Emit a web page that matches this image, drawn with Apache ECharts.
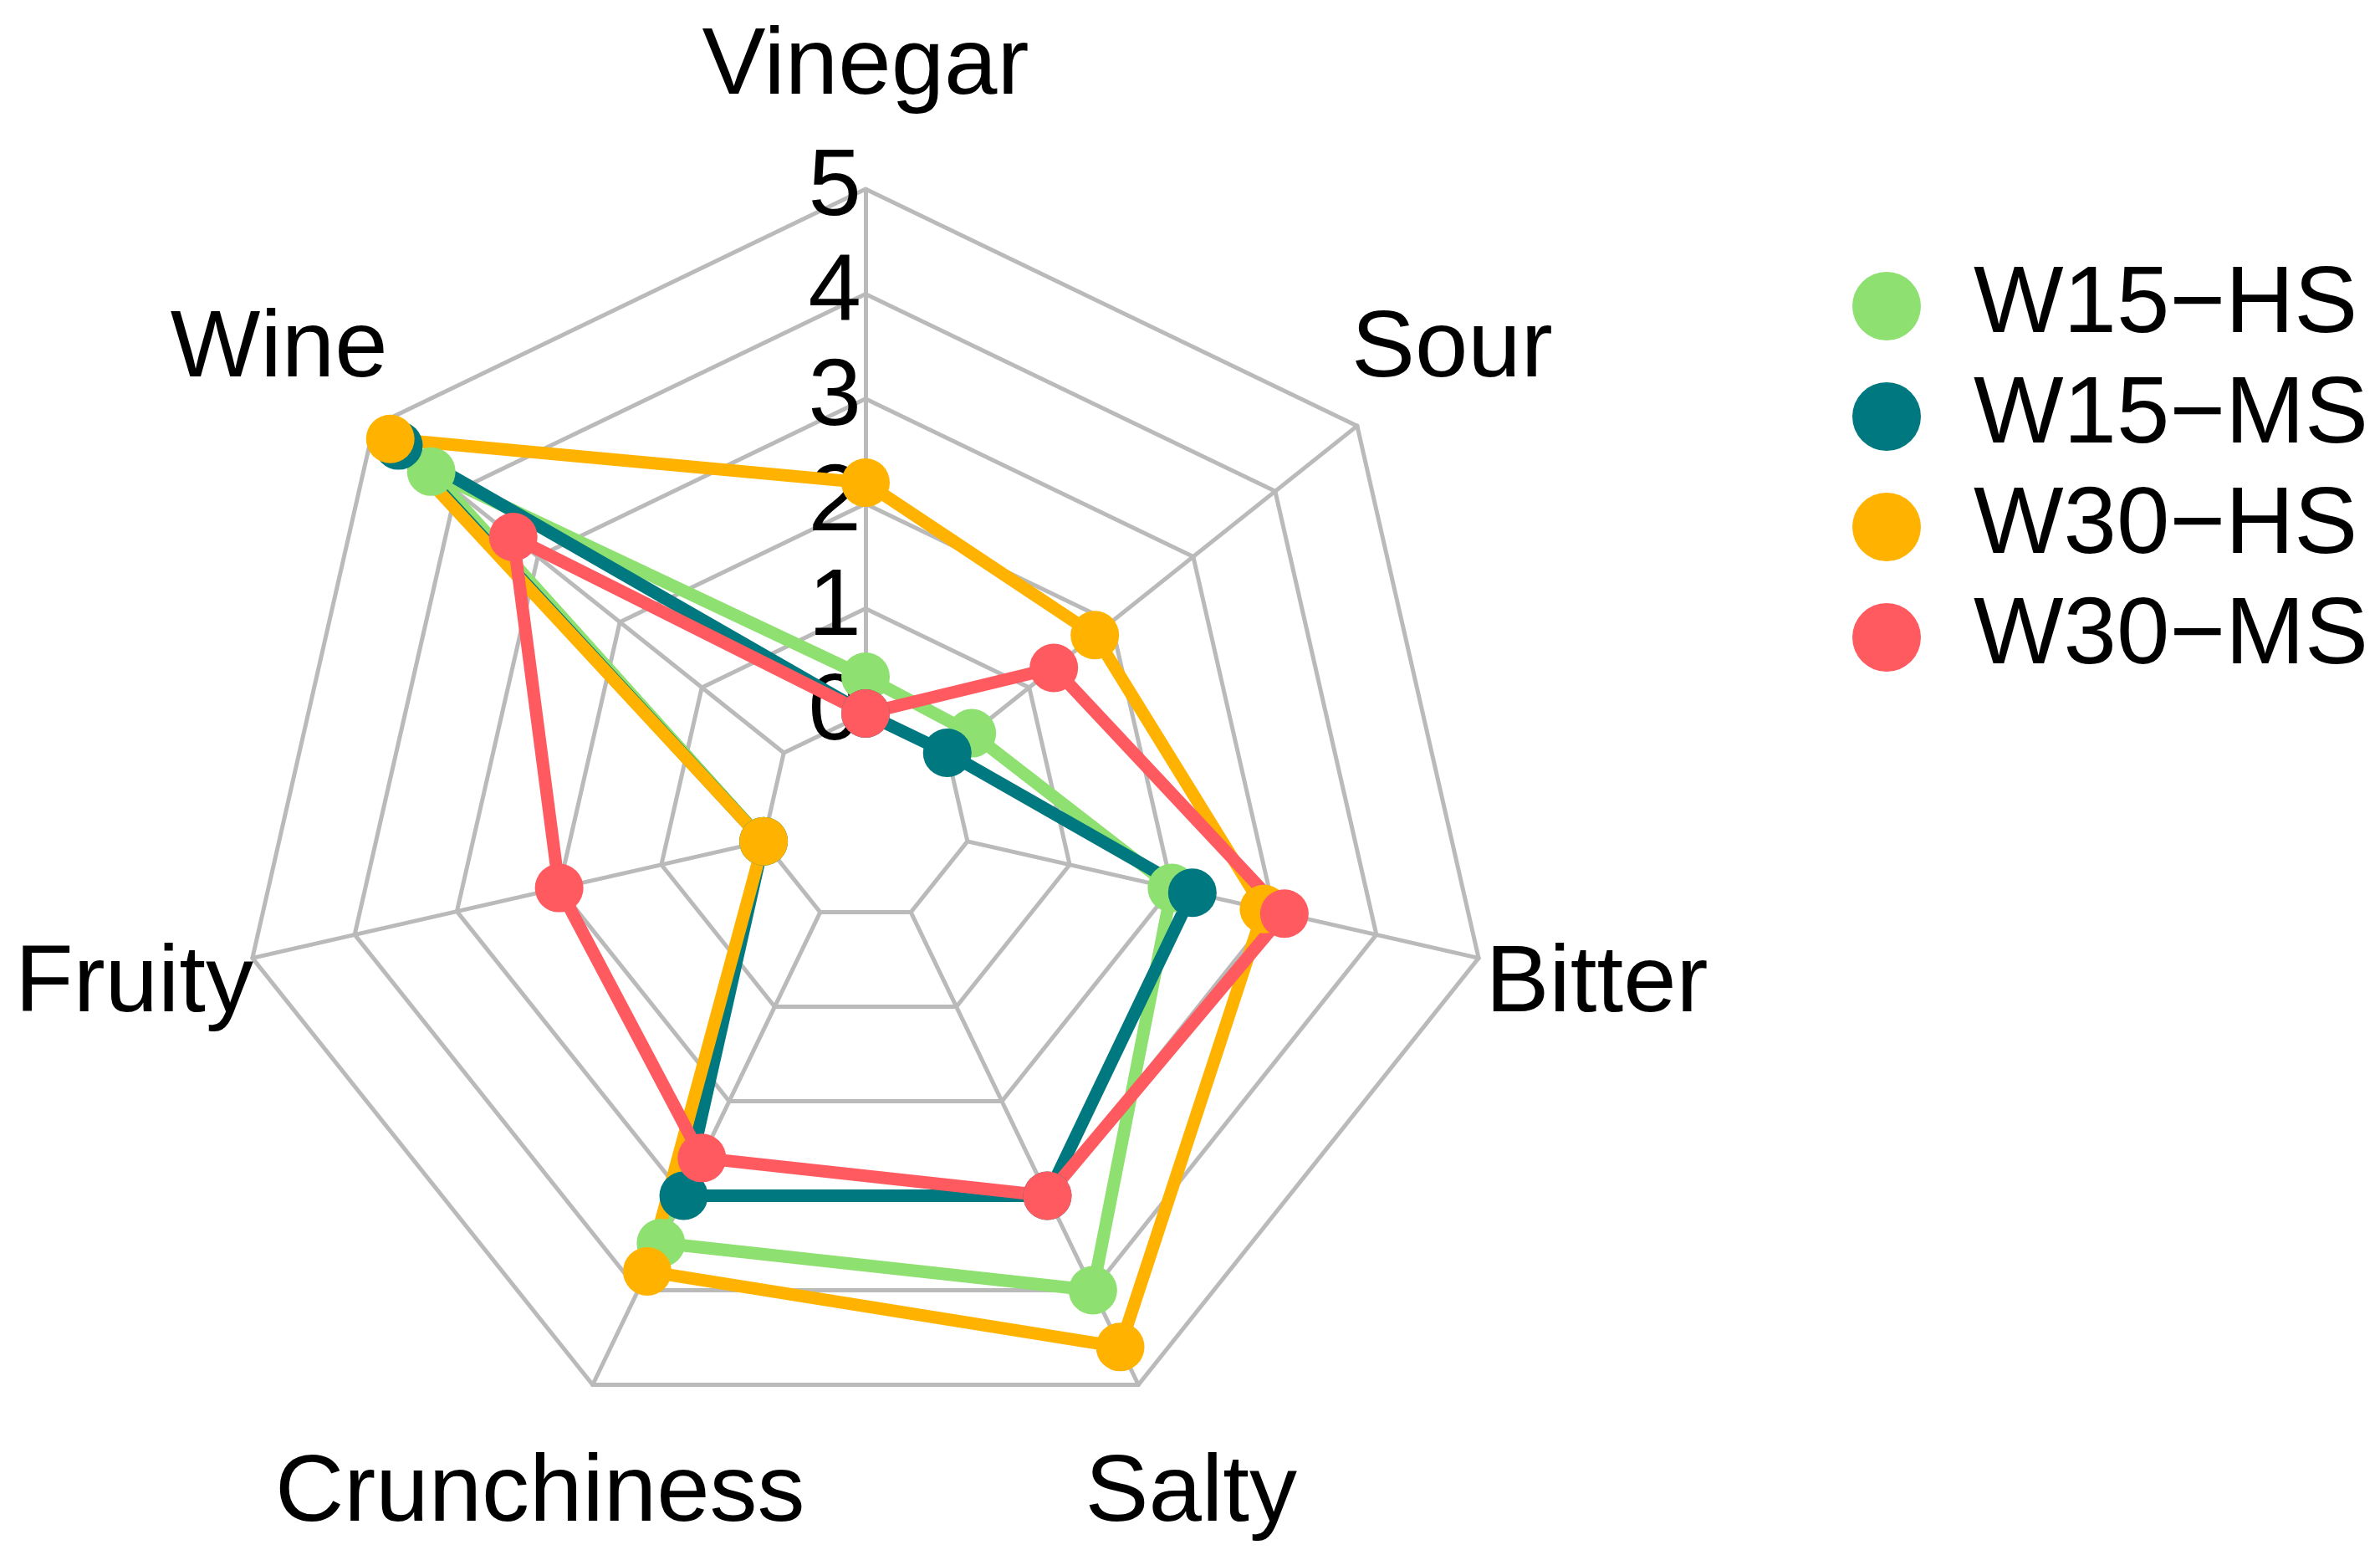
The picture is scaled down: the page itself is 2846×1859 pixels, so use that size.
<!DOCTYPE html>
<html>
<head>
<meta charset="utf-8">
<script src="https://cdn.jsdelivr.net/npm/echarts@6/dist/echarts.min.js"></script>
<style>
  html, body { margin: 0; padding: 0; background: #fff; }
  #main { width: 2846px; height: 1859px; }
</style>
</head>
<body>
<div id="main"></div>
<script>
// attributes in clockwise order, starting at the top
const attributes = ["Vinegar", "Sour", "Bitter", "Salty", "Crunchiness", "Fruity", "Wine"];
const groups = ["W15\u2212HS", "W15\u2212MS", "W30\u2212HS", "W30\u2212MS"];
const colors = ["#8EE070", "#00787F", "#FFB300", "#FF5A60"];

const w15hs = [0.35, 0.3, 2.0, 4.0, 3.5, 0, 4.3];
const w15ms = [0, 0, 2.2, 3.0, 3.0, 0, 4.7];
const w30hs = [2.2, 1.8, 2.9, 4.6, 3.8, 0, 4.8];
const w30ms = [0, 1.3, 3.1, 3.0, 2.6, 2.0, 3.3];
const scores = [w15hs, w15ms, w30hs, w30ms];

const font = "'Liberation Sans', Arial, sans-serif";

// echarts lays indicators out counter-clockwise, so walk the list backwards
const order = [0, 6, 5, 4, 3, 2, 1];

const indicator = order.map((i, k) => {
    const ind = { name: attributes[i], min: 0, max: 5 };
    if (k === 0) ind.axisLabel = { show: true };
    return ind;
});

const chart = echarts.init(document.getElementById("main"));

chart.setOption({
    backgroundColor: "#fff",
    animation: false,
    legend: {
        orient: "vertical",
        left: 2210,
        top: 304,
        icon: "circle",
        itemWidth: 198,
        itemHeight: 82,
        itemGap: 18,
        selectedMode: false,
        data: groups,
        textStyle: { fontSize: 114, fontFamily: font, color: "#000" }
    },
    radar: {
        center: [1035, 978],
        radius: [125, 752],
        splitNumber: 5,
        shape: "polygon",
        indicator: indicator,
        axisNameGap: 145,
        axisName: {
            color: "#000",
            fontSize: 114,
            fontFamily: font,
            align: "center",
            verticalAlign: "middle"
        },
        axisLine: { lineStyle: { color: "#bababa", width: 5 } },
        splitLine: { lineStyle: { color: "#bababa", width: 5 } },
        splitArea: { show: false },
        axisTick: { show: false },
        axisLabel: {
            show: false,
            color: "#000",
            fontSize: 114,
            fontFamily: font,
            margin: 5
        }
    },
    series: [{
        type: "radar",
        symbol: "circle",
        symbolSize: 58,
        data: scores.map((vals, g) => ({
            name: groups[g],
            value: order.map(i => vals[i]),
            itemStyle: { color: colors[g] },
            lineStyle: { color: colors[g], width: 15 }
        }))
    }]
});
</script>
</body>
</html>
